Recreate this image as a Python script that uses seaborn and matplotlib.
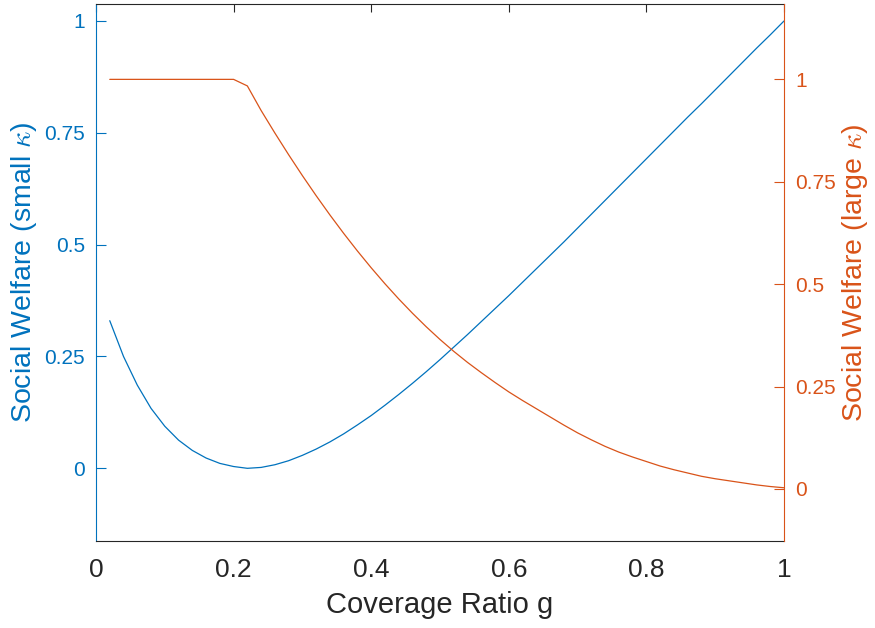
import matplotlib
matplotlib.use("Agg")
import matplotlib.pyplot as plt
import seaborn as sns
import numpy as np
import pandas as pd

# coverage ratio g, sampled 0.02 : 0.02 : 1
g = np.round(np.arange(1, 51) * 0.02, 2)

# social welfare, small kappa (left axis)
welfare_small = [
    0.330, 0.250, 0.186, 0.134, 0.094, 0.063, 0.040, 0.023, 0.011, 0.004,
    0.000, 0.002, 0.008, 0.017, 0.029, 0.043, 0.059, 0.077, 0.097, 0.118,
    0.141, 0.165, 0.190, 0.216, 0.243, 0.271, 0.299, 0.328, 0.357, 0.386,
    0.416, 0.446, 0.476, 0.506, 0.537, 0.568, 0.599, 0.630, 0.661, 0.692,
    0.723, 0.754, 0.785, 0.815, 0.846, 0.877, 0.908, 0.939, 0.969, 1.000,
]

# social welfare, large kappa (right axis)
welfare_large = [
    1.000, 1.000, 1.000, 1.000, 1.000, 1.000, 1.000, 1.000, 1.000, 1.000,
    0.984, 0.924, 0.869, 0.816, 0.765, 0.716, 0.669, 0.624, 0.581, 0.540,
    0.501, 0.464, 0.429, 0.396, 0.365, 0.336, 0.309, 0.284, 0.260, 0.237,
    0.216, 0.196, 0.176, 0.156, 0.137, 0.120, 0.104, 0.090, 0.078, 0.067,
    0.056, 0.047, 0.039, 0.031, 0.025, 0.020, 0.015, 0.010, 0.006, 0.003,
]

yticks = [0, 0.25, 0.5, 0.75, 1]
ytick_labels = ["0", "0.25", "0.5", "0.75", "1"]
xticks = [0, 0.2, 0.4, 0.6, 0.8, 1]
xtick_labels = ["0", "0.2", "0.4", "0.6", "0.8", "1"]

df = pd.DataFrame({"g": g, "small": welfare_small, "large": welfare_large})

blue = "#0072BD"
orange = "#D95319"
dark = "#262626"

sns.set_style("white")
plt.rcParams["font.family"] = ["Liberation Sans", "DejaVu Sans"]
plt.rcParams["mathtext.fontset"] = "cm"

fig = plt.figure(figsize=(8.75, 6.28), dpi=100)
ax = fig.add_axes([96 / 875, 87 / 628, 688 / 875, 537 / 628])
ax2 = ax.twinx()

sns.lineplot(data=df, x="g", y="small", ax=ax, color=blue, linewidth=0.9)
sns.lineplot(data=df, x="g", y="large", ax=ax2, color=orange, linewidth=0.9)

ax.set_xlim(0, 1)
ax.set_ylim(-0.1625, 1.038)
ax2.set_ylim(-0.127, 1.184)

ax.set_xticks(xticks)
ax.set_xticklabels(xtick_labels, fontsize=19, color=dark)
ax.set_yticks(yticks)
ax.set_yticklabels(ytick_labels, fontsize=15, color=blue)
ax2.set_yticks(yticks)
ax2.set_yticklabels(ytick_labels, fontsize=15, color=orange)

ax.tick_params(axis="x", direction="in", length=6, width=0.8, color=dark,
               top=True, pad=12)
ax.tick_params(axis="y", direction="in", length=7, width=0.8, color=blue, pad=8)
ax2.tick_params(axis="y", direction="in", length=7, width=0.8, color=orange, pad=8)

for side in ["top", "bottom"]:
    ax.spines[side].set_color(dark)
    ax.spines[side].set_linewidth(0.8)
ax.spines["left"].set_color(blue)
ax.spines["left"].set_linewidth(0.8)
ax.spines["right"].set_visible(False)
for side in ["top", "bottom", "left"]:
    ax2.spines[side].set_visible(False)
ax2.spines["right"].set_visible(True)
ax2.spines["right"].set_color(orange)
ax2.spines["right"].set_linewidth(0.8)

ax.set_xlabel("Coverage Ratio g", fontsize=21, color=dark, labelpad=7)
ax.set_ylabel(r"Social Welfare (small $\kappa$)", fontsize=20.5, color=blue, labelpad=4)
ax2.set_ylabel(r"Social Welfare (large $\kappa$)", fontsize=20.5, color=orange, labelpad=3)

fig.savefig("out.png", dpi=100)
